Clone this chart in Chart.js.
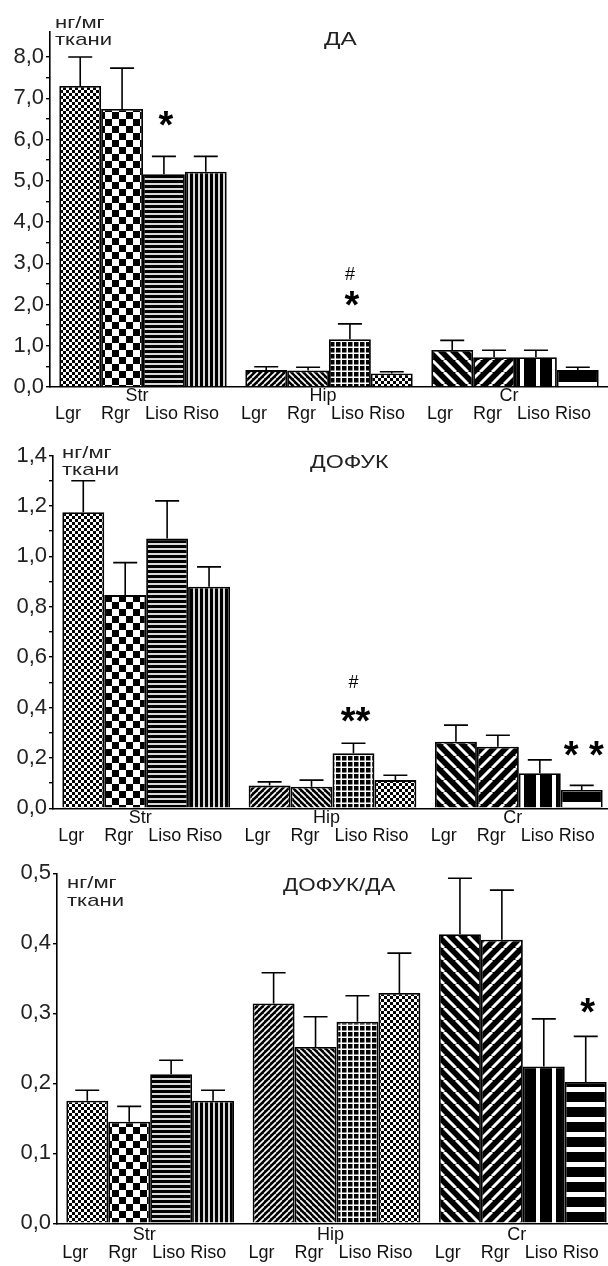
<!DOCTYPE html>
<html><head><meta charset="utf-8">
<script src="https://cdn.jsdelivr.net/npm/chart.js@4"></script>
<style>
html,body{margin:0;padding:0;background:#fff;overflow:hidden;width:608px;height:1266px;position:relative;}
.panel{position:absolute;left:0;}
canvas{display:block;}
.lbl{position:absolute;font-family:Arial,"Liberation Sans",sans-serif;color:#222;white-space:nowrap;transform-origin:left top;}
</style></head><body>
<div class="panel" style="top:0"><canvas id="c1" width="608" height="440"></canvas></div>
<div class="panel" style="top:420px"><canvas id="c2" width="612" height="440"></canvas></div>
<div class="panel" style="top:840px"><canvas id="c3" width="616" height="426"></canvas></div>

<div class="lbl" style="left:55px;top:14px;font-size:17px;line-height:17px;transform:scaleX(1.3)">нг/мг<br>ткани</div>
<div class="lbl" style="left:324px;top:29px;font-size:19px;line-height:19px;transform:scaleX(1.28)">ДА</div>

<div class="lbl" style="left:62px;top:444px;font-size:17px;line-height:17px;transform:scaleX(1.3)">нг/мг<br>ткани</div>
<div class="lbl" style="left:310px;top:452px;font-size:19px;line-height:19px;transform:scaleX(1.22)">ДОФУК</div>

<div class="lbl" style="left:67px;top:874px;font-size:17px;line-height:18px;transform:scaleX(1.3)">нг/мг<br>ткани</div>
<div class="lbl" style="left:283px;top:875px;font-size:19px;line-height:19px;transform:scaleX(1.18)">ДОФУК/ДА</div>

<script>
// ---------- DATA ----------
const groups = ['Str', 'Hip', 'Cr'];
const seriesNames = ['Lgr', 'Rgr', 'Liso', 'Riso'];

// Panel 1: ДА (mean and upper end of error bar)
const daLgr  = [7.30, 0.41, 0.90];  const daLgrUp  = [8.00, 0.49, 1.13];
const daRgr  = [6.74, 0.40, 0.72];  const daRgrUp  = [7.73, 0.48, 0.89];
const daLiso = [5.16, 1.16, 0.72];  const daLisoUp = [5.59, 1.53, 0.89];
const daRiso = [5.22, 0.33, 0.41];  const daRisoUp = [5.59, 0.37, 0.48];
const daTicks = [0, 1, 2, 3, 4, 5, 6, 7, 8];

// Panel 2: ДОФУК
const dfLgr  = [1.175, 0.090, 0.264]; const dfLgrUp  = [1.30, 0.105, 0.33];
const dfRgr  = [0.846, 0.086, 0.244]; const dfRgrUp  = [0.975, 0.112, 0.29];
const dfLiso = [1.071, 0.218, 0.139]; const dfLisoUp = [1.22, 0.258, 0.192];
const dfRiso = [0.879, 0.112, 0.073]; const dfRisoUp = [0.958, 0.131, 0.091];
const dfTicks = [0, 0.2, 0.4, 0.6, 0.8, 1.0, 1.2, 1.4];

// Panel 3: ДОФУК/ДА
const rLgr  = [0.175, 0.314, 0.413]; const rLgrUp  = [0.190, 0.358, 0.493];
const rRgr  = [0.145, 0.252, 0.405]; const rRgrUp  = [0.167, 0.295, 0.476];
const rLiso = [0.213, 0.288, 0.224]; const rLisoUp = [0.233, 0.325, 0.292];
const rRiso = [0.175, 0.329, 0.202]; const rRisoUp = [0.190, 0.386, 0.267];
const rTicks = [0, 0.1, 0.2, 0.3, 0.4, 0.5];

// significance marks: group index, series index, label, value level
const daMarks = [{g:0, s:2, text:'*', v:6.55}, {g:1, s:2, text:'*', v:2.18}, {g:1, s:2, text:'#', v:2.76}];
const dfMarks = [{g:1, s:2, text:'**', v:0.379}, {g:1, s:2, text:'#', v:0.502}, {g:2, s:3, text:'* *', v:0.244}];
const rMarks  = [{g:2, s:3, text:'*', v:0.314}];

// ---------- PATTERNS ----------
function tile(w, h, draw) {
  const c = document.createElement('canvas'); c.width = w; c.height = h;
  const x = c.getContext('2d'); draw(x, w, h);
  return x.createPattern(c, 'repeat');
}
const P = {
  checkFine: () => tile(6, 6, (x) => { x.fillStyle = '#fff'; x.fillRect(0,0,6,6); x.fillStyle = '#000'; x.fillRect(0,0,3,3); x.fillRect(3,3,3,3); }),
  checkCoarse: () => tile(14, 14, (x) => { x.fillStyle = '#fff'; x.fillRect(0,0,14,14); x.fillStyle = '#000'; x.fillRect(0,0,7,7); x.fillRect(7,7,7,7); }),
  hFine: () => tile(5, 5, (x) => { x.fillStyle = '#000'; x.fillRect(0,0,5,5); x.fillStyle = '#d8d8d8'; x.fillRect(0,3,5,2); }),
  vFine: () => tile(5, 5, (x) => { x.fillStyle = '#000'; x.fillRect(0,0,5,5); x.fillStyle = '#d8d8d8'; x.fillRect(3,0,2,5); }),
  gridFine: () => tile(6, 6, (x) => { x.fillStyle = '#000'; x.fillRect(0,0,6,6); x.fillStyle = '#fff'; x.fillRect(0,4.5,6,1.5); x.fillRect(4.5,0,1.5,6); }),
  diag: (s, lw, up) => tile(s, s, (x) => {
    x.fillStyle = '#000'; x.fillRect(0,0,s,s);
    x.strokeStyle = '#fff'; x.lineWidth = lw; x.beginPath();
    for (let k = -1; k <= 1; k++) {
      if (up) { x.moveTo(k*s, s); x.lineTo(k*s + s, 0); }
      else { x.moveTo(k*s, 0); x.lineTo(k*s + s, s); }
    }
    x.stroke();
  }),
  vWide: () => tile(16, 4, (x) => { x.fillStyle = '#000'; x.fillRect(0,0,16,4); x.fillStyle = '#fff'; x.fillRect(8,0,4,4); }),
  hWide: () => tile(4, 15, (x) => { x.fillStyle = '#000'; x.fillRect(0,0,4,15); x.fillStyle = '#fff'; x.fillRect(0,7,4,5); })
};
const fills = [
  [P.checkFine(), P.diag(6, 1.6, true), P.diag(12, 3, false)],
  [P.checkCoarse(), P.diag(6, 1.6, false), P.diag(12, 3, true)],
  [P.hFine(), P.gridFine(), P.vWide()],
  [P.vFine(), P.checkFine(), P.hWide()]
];

// ---------- PLUGINS ----------
const errorBars = {
  id: 'errorBars',
  afterDatasetsDraw(chart) {
    const ctx = chart.ctx, y = chart.scales.y;
    chart.data.datasets.forEach((ds, di) => {
      chart.getDatasetMeta(di).data.forEach((bar, i) => {
        const yt = y.getPixelForValue(ds.upper[i]);
        ctx.save(); ctx.strokeStyle = '#000'; ctx.lineWidth = 1.6;
        ctx.beginPath();
        ctx.moveTo(bar.x, bar.y); ctx.lineTo(bar.x, yt);
        ctx.moveTo(bar.x - 12, yt); ctx.lineTo(bar.x + 12, yt);
        ctx.stroke(); ctx.restore();
      });
    });
  }
};
const marks = {
  id: 'marks',
  afterDraw(chart, args, opts) {
    const ctx = chart.ctx, y = chart.scales.y;
    (opts.list || []).forEach(m => {
      const bar = chart.getDatasetMeta(m.s).data[m.g];
      const cy = y.getPixelForValue(m.v);
      ctx.save(); ctx.fillStyle = '#000'; ctx.textAlign = 'center'; ctx.textBaseline = 'alphabetic';
      if (m.text === '#') {
        ctx.font = '18px "Liberation Sans", Arial, sans-serif';
        ctx.fillText(m.text, bar.x, cy + 6.5);
      } else {
        ctx.font = 'bold 38px "Liberation Sans", Arial, sans-serif';
        ctx.fillText(m.text, bar.x + 2, cy + 21);
      }
      ctx.restore();
    });
  }
};

const FONT = '"Liberation Sans", Arial, sans-serif';
const seriesLine = seriesNames[0] + '    ' + seriesNames[1] + '   ' + seriesNames[2] + ' ' + seriesNames[3];
const fmt = v => v.toFixed(1).replace('.', ',');

function makeChart(id, vals, ups, tickVals, cfg) {
  const datasets = seriesNames.map((n, i) => ({
    label: n, data: vals[i], upper: ups[i], backgroundColor: fills[i],
    borderColor: '#000', borderWidth: 1.8, borderSkipped: 'bottom',
    categoryPercentage: 0.9, barPercentage: 1.0
  }));
  return new Chart(document.getElementById(id), {
    type: 'bar',
    data: { labels: groups.map(g => [g, seriesLine]), datasets },
    options: {
      responsive: false, animation: false,
      layout: { padding: { top: cfg.top, left: 0, right: 0, bottom: 0 } },
      plugins: { legend: { display: false }, tooltip: { enabled: false }, marks: { list: cfg.marks } },
      scales: {
        x: {
          grid: { display: false, drawTicks: false },
          border: { display: true, color: '#000', width: 1.6 },
          ticks: { autoSkip: false, maxRotation: 0, labelOffset: -6, padding: cfg.xpad, color: '#111',
                   font: { family: FONT, size: 18, lineHeight: 1.0 } },
          afterFit: s => { s.height = cfg.xh; }
        },
        y: {
          min: 0, max: cfg.max,
          afterBuildTicks: s => {
            const top = tickVals[tickVals.length - 1];
            const t = [];
            for (let v = 0; v <= top + 1e-9; v += cfg.minor) t.push({ value: Math.round(v * 1000) / 1000 });
            s.ticks = t;
          },
          ticks: { autoSkip: false, padding: 2, color: '#222', font: { family: FONT, size: 22 },
                   callback: v => tickVals.some(t => Math.abs(t - v) < 1e-6) ? fmt(v) : '' },
          grid: { display: true, drawOnChartArea: false, drawTicks: true, tickLength: 4, color: '#000', lineWidth: 1.4 },
          border: { display: true, color: '#000', width: 1.6 },
          afterFit: s => { s.width = cfg.left; }
        }
      }
    },
    plugins: [errorBars, marks]
  });
}

makeChart('c1', [daLgr, daRgr, daLiso, daRiso], [daLgrUp, daRgrUp, daLisoUp, daRisoUp], daTicks,
  { top: 32.25, left: 50, xh: 53, xpad: 0, max: 8.6, minor: 0.5, marks: daMarks });
makeChart('c2', [dfLgr, dfRgr, dfLiso, dfRiso], [dfLgrUp, dfRgrUp, dfLisoUp, dfRisoUp], dfTicks,
  { top: 35.5, left: 53, xh: 51.7, xpad: 1, max: 1.4, minor: 0.1, marks: dfMarks });
makeChart('c3', [rLgr, rRgr, rLiso, rRiso], [rLgrUp, rRgrUp, rLisoUp, rRisoUp], rTicks,
  { top: 33.3, left: 57, xh: 42.7, xpad: 3, max: 0.5, minor: 0.1, marks: rMarks });
</script>
</body></html>
